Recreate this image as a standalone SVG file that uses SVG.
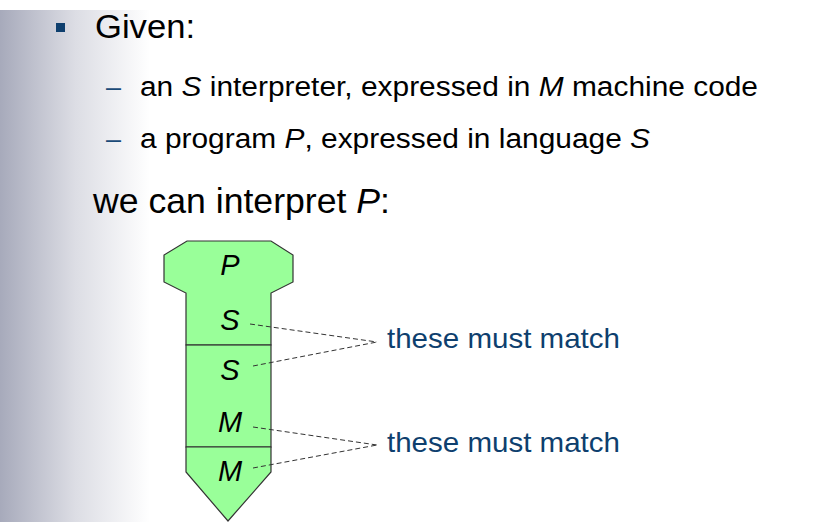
<svg xmlns="http://www.w3.org/2000/svg" width="829" height="522" viewBox="0 0 829 522">
<defs>
<linearGradient id="bg" x1="0" y1="0" x2="1" y2="0">
<stop offset="0" stop-color="#a7aabb"/>
<stop offset="0.5" stop-color="#dcdde4"/>
<stop offset="1" stop-color="#ffffff"/>
</linearGradient>
<style>
.t{font-family:"Liberation Sans",Arial,sans-serif;fill:#000}
.i{font-style:italic}
.dash{fill:#1a4a78}
.shape{fill:#99ff99;stroke:#333;stroke-width:1.2;stroke-linejoin:miter}
.lbl{font-family:"Liberation Sans",Arial,sans-serif;font-style:italic;font-size:29px;fill:#000;text-anchor:middle}
.conn{stroke:#333;stroke-width:1;stroke-dasharray:5,3;fill:none}
.note{font-family:"Liberation Sans",Arial,sans-serif;font-size:28px;fill:#0e3f6e}
</style>
</defs>
<rect width="829" height="522" fill="#fff"/>
<rect x="0" y="10" width="150" height="512" fill="url(#bg)"/>
<g id="text">
<rect x="56" y="23" width="9" height="9" fill="#0e3f6e"/>
<text class="t" x="95" y="38" font-size="34" textLength="100" lengthAdjust="spacingAndGlyphs">Given:</text>
<text class="t dash" x="106" y="96" font-size="27">–</text>
<text class="t" x="140" y="96" font-size="27" textLength="618" lengthAdjust="spacingAndGlyphs">an <tspan class="i">S</tspan> interpreter, expressed in <tspan class="i">M</tspan> machine code</text>
<text class="t dash" x="106" y="148" font-size="27">–</text>
<text class="t" x="140" y="148" font-size="27" textLength="510" lengthAdjust="spacingAndGlyphs">a program <tspan class="i">P</tspan>, expressed in language <tspan class="i">S</tspan></text>
<text class="t" x="93" y="213" font-size="35" textLength="297" lengthAdjust="spacingAndGlyphs">we can interpret <tspan class="i">P</tspan>:</text>
</g>
<g id="program-P">
<polygon class="shape" points="187,241 271,241 293,255 293,282 271,293 271,345 186,345 186,293 164,282 164,255"/>
<text class="lbl" x="230" y="275">P</text>
<text class="lbl" x="230" y="330">S</text>
</g>
<g id="interpreter">
<rect class="shape" x="186" y="345" width="85" height="102"/>
<text class="lbl" x="230" y="380">S</text>
<text class="lbl" x="230" y="432">M</text>
</g>
<g id="machine-M">
<polygon class="shape" points="186,447 271,447 271,472 228,521 186,472"/>
<text class="lbl" x="230" y="481">M</text>
</g>
<g id="connectors">
<line class="conn" x1="250" y1="324" x2="377" y2="342"/>
<line class="conn" x1="253" y1="366" x2="377" y2="342"/>
<line class="conn" x1="253" y1="427" x2="377" y2="445"/>
<line class="conn" x1="253" y1="468" x2="377" y2="445"/>
</g>
<g id="note-1">
<text class="note" x="387" y="348" textLength="233" lengthAdjust="spacingAndGlyphs">these must match</text>
</g>
<g id="note-2">
<text class="note" x="387" y="451.5" textLength="233" lengthAdjust="spacingAndGlyphs">these must match</text>
</g>
</svg>
